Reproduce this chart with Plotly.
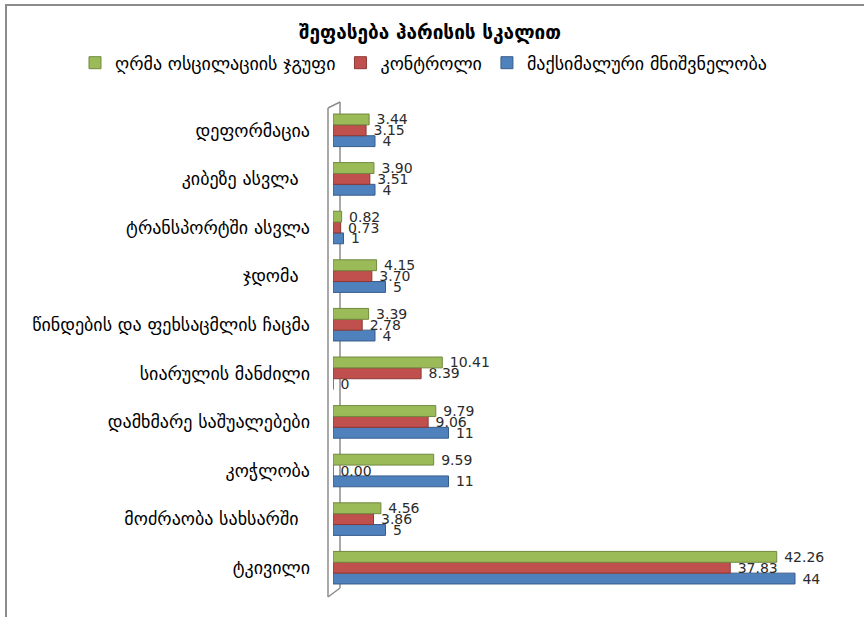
import plotly.graph_objects as go

categories = [
    "ტკივილი",
    "მოძრაობა სახსარში  ",
    "კოჭლობა",
    "დამხმარე საშუალებები",
    "სიარულის მანძილი",
    "წინდების და ფეხსაცმლის ჩაცმა",
    "ჯდომა  ",
    "ტრანსპორტში ასვლა",
    "კიბეზე ასვლა  ",
    "დეფორმაცია",
]
series_names = ["ღრმა ოსცილაციის ჯგუფი", "კონტროლი", "მაქსიმალური მნიშვნელობა"]
deep_osc = [42.26, 4.56, 9.59, 9.79, 10.41, 3.39, 4.15, 0.82, 3.90, 3.44]
control = [37.83, 3.86, 0.00, 9.06, 8.39, 2.78, 3.70, 0.73, 3.51, 3.15]
max_val = [44, 5, 11, 11, 0, 4, 5, 1, 4, 4]
title_text = "შეფასება ჰარისის სკალით"

W, H = 864, 617
L, R, T, B = 333, 6, 106, 25
PW, PH = W - L - R, H - T - B

def px(x):
    return (x - L) / PW

def py(y):
    return (H - B - y) / PH

FONT = "DejaVu Sans"
fig = go.Figure()
specs = [
    (series_names[2], max_val, "#4F81BD", "#385D8A", " %{x:.0f}"),
    (series_names[1], control, "#C0504D", "#8C3836", " %{x:.2f}"),
    (series_names[0], deep_osc, "#9BBB59", "#71893F", " %{x:.2f}"),
]
for name, vals, col, lcol, tt in specs:
    fig.add_trace(go.Bar(
        y=categories, x=vals, name=name, orientation="h",
        marker=dict(color=col, line=dict(color=lcol, width=1)),
        texttemplate=tt, textposition="outside", constraintext="none",
        cliponaxis=False,
        textfont=dict(family=FONT, size=14, color="#2b2b2b"),
        hoverinfo="x+name",
    ))

wall = dict(color="#8c8c8c", width=1.5)
shapes = [
    dict(type="rect", xref="paper", yref="paper",
         x0=px(6), x1=px(900), y0=py(700), y1=py(5),
         line=dict(color="#8c8c8c", width=2), layer="below"),
    dict(type="line", xref="paper", yref="paper", x0=px(340), x1=px(340), y0=py(588), y1=py(102),
         line=wall, layer="below"),
    dict(type="line", xref="paper", yref="paper", x0=px(328), x1=px(328), y0=py(597), y1=py(108),
         line=wall, layer="below"),
    dict(type="line", xref="paper", yref="paper", x0=px(328), x1=px(340), y0=py(108), y1=py(102),
         line=wall, layer="below"),
    dict(type="line", xref="paper", yref="paper", x0=px(328), x1=px(340), y0=py(597), y1=py(588),
         line=wall, layer="below"),
]

fig.update_layout(
    width=W, height=H,
    margin=dict(l=L, r=R, t=T, b=B),
    paper_bgcolor="white", plot_bgcolor="white",
    barmode="group", bargap=0.33, bargroupgap=0.0,
    title=dict(text="<b>" + title_text + "</b>", x=430 / W, y=1 - 32 / H,
               xanchor="center", yanchor="middle",
               font=dict(family=FONT, size=19, color="#000000")),
    legend=dict(orientation="h", traceorder="reversed",
                xref="paper", yref="paper",
                x=px(75), y=py(63), xanchor="left", yanchor="middle",
                font=dict(family=FONT, size=18, color="#000000"),
                itemwidth=30),
    xaxis=dict(range=[0, 50], visible=False, showgrid=False, zeroline=False),
    yaxis=dict(showgrid=False, zeroline=False, showline=False, ticks="",
               ticklabelstandoff=22,
               tickfont=dict(family=FONT, size=18, color="#000000")),
    shapes=shapes,
    showlegend=True,
)

fig.write_html("out.html")
